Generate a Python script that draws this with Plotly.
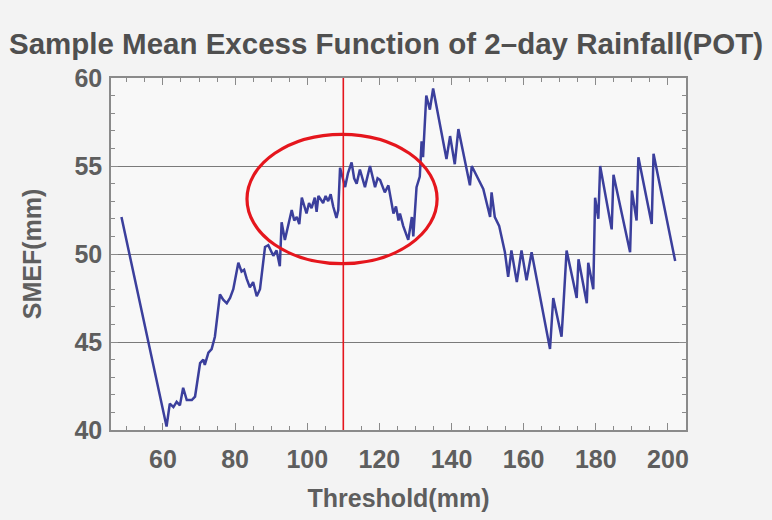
import plotly.graph_objects as go

# ---- data ----
threshold_mm = [
    48.5, 61.0, 61.9, 62.9, 63.8, 64.7, 65.6, 66.6, 68.0, 68.9,
    70.3, 71.2, 71.6, 72.6, 73.5, 74.4, 75.8, 76.7, 77.7, 78.6,
    79.5, 80.9, 81.8, 82.5, 83.2, 84.1, 85.0, 86.0, 86.9, 88.3,
    89.2, 90.6, 91.5, 92.4, 92.9, 93.8, 95.7, 96.4, 97.1, 97.8,
    98.5, 99.8, 100.5, 101.2, 102.1, 102.6, 103.1, 104.4, 105.1, 105.8,
    106.5, 107.2, 108.1, 108.6, 109.1, 110.5, 111.3, 112.3, 113.0, 113.7,
    114.6, 116.0, 117.4, 118.8, 119.5, 120.2, 121.5, 122.5, 123.9, 124.6,
    125.3, 125.7, 126.6, 127.6, 128.0, 129.0, 129.4, 130.3, 131.2, 131.7,
    132.1, 133.0, 134.0, 134.9, 135.8, 138.6, 139.6, 140.9, 141.9, 143.7,
    145.1, 145.6, 147.9, 148.8, 150.7, 151.1, 152.0, 153.2, 154.8, 155.7,
    156.6, 158.1, 159.4, 160.8, 162.2, 163.6, 167.3, 168.2, 169.6, 170.5,
    171.0, 171.9, 174.7, 175.2, 177.5, 177.9, 179.3, 179.8, 180.7, 181.2,
    184.4, 184.9, 189.5, 190.0, 191.3, 191.8, 195.5, 196.0, 202.0,
]
smef_mm = [
    52.1, 40.2, 41.5, 41.3, 41.6, 41.4, 42.4, 41.7, 41.7, 41.9,
    43.8, 44.0, 43.7, 44.4, 44.6, 45.3, 47.7, 47.4, 47.2, 47.5,
    48.0, 49.5, 49.0, 49.1, 48.6, 48.1, 48.4, 47.6, 48.0, 50.4,
    50.5, 49.9, 50.2, 49.3, 51.8, 50.8, 52.5, 51.9, 52.1, 51.7,
    53.2, 52.3, 52.9, 52.6, 53.2, 52.4, 53.3, 52.9, 53.3, 53.0,
    53.4, 52.7, 52.05, 52.5, 54.9, 53.8, 54.6, 55.2, 54.3, 54.0,
    54.8, 53.8, 55.0, 53.8, 54.3, 54.2, 53.5, 53.9, 52.3, 52.7,
    51.9, 52.3, 51.6, 51.0, 50.8, 52.1, 51.0, 53.8, 54.4, 56.4,
    55.5, 59.0, 58.2, 59.4, 58.4, 55.4, 56.7, 55.1, 57.1, 55.2,
    53.9, 55.0, 54.0, 53.7, 52.1, 53.5, 52.1, 51.6, 50.1, 48.7,
    50.2, 48.4, 50.2, 48.5, 50.1, 48.6, 44.6, 47.5, 46.1, 45.3,
    47.0, 50.2, 47.5, 49.7, 47.2, 49.5, 48.0, 53.2, 52.0, 55.0,
    51.4, 54.5, 50.1, 53.6, 51.9, 55.5, 51.7, 55.7, 49.6,
]
x_tick_vals = [60, 80, 100, 120, 140, 160, 180, 200]
y_tick_vals = [40, 45, 50, 55, 60]

marked_threshold = 110          # red vertical reference line
ellipse_x = [83.3, 136.0]       # highlighted region (threshold range)
ellipse_y = [49.45, 56.8]       # highlighted region (SMEF range)

title_text = "Sample Mean Excess Function of 2\u2013day Rainfall(POT)"
x_title = "Threshold(mm)"
y_title = "SMEF(mm)"

FONT = "Liberation Sans, Arial, sans-serif"
GRAY = "#5e5e5e"
FRAME = "#8a8a8a"

fig = go.Figure()
fig.add_trace(go.Scatter(
    x=threshold_mm, y=smef_mm, mode="lines",
    line=dict(color="#3b3f9c", width=2.5),
    showlegend=False, hoverinfo="x+y",
))

fig.add_shape(type="line", xref="x", yref="paper",
              x0=marked_threshold, x1=marked_threshold, y0=0, y1=1,
              line=dict(color="#e5161d", width=1.6))
fig.add_shape(type="circle", xref="x", yref="y",
              x0=ellipse_x[0], x1=ellipse_x[1], y0=ellipse_y[0], y1=ellipse_y[1],
              line=dict(color="#e5161d", width=3.2))

axis_common = dict(
    showline=True, linecolor=FRAME, linewidth=1.5, mirror="allticks",
    ticks="inside", ticklen=7, tickcolor=FRAME, tickwidth=1.3,
    zeroline=False,
    tickfont=dict(family=FONT, size=25, color=GRAY, weight="bold"),
)

fig.update_xaxes(
    range=[45.6, 205.0], tickvals=x_tick_vals, showgrid=False, ticklabelstandoff=6,
    minor=dict(dtick=5, tick0=0, ticks="inside", ticklen=4, tickcolor=FRAME, showgrid=False),
    title=dict(text=x_title, font=dict(family=FONT, size=25, color=GRAY, weight="bold"), standoff=18),
    **axis_common,
)
fig.update_yaxes(
    range=[40, 60], tickvals=y_tick_vals, showgrid=True, gridcolor="#7a7a7a", gridwidth=1.4,
    ticklabelstandoff=2,
    minor=dict(dtick=1, tick0=0, ticks="inside", ticklen=4, tickcolor=FRAME, showgrid=False),
    title=dict(text=y_title, font=dict(family=FONT, size=25, color=GRAY, weight="bold"), standoff=26),
    **axis_common,
)

fig.update_layout(
    width=772, height=520,
    margin=dict(l=111, r=86, t=78, b=90),
    paper_bgcolor="#f3f3f3", plot_bgcolor="#f8f8f8",
    title=dict(text=title_text, x=0.5, xanchor="center", y=1 - 44 / 520, yanchor="middle",
               font=dict(family=FONT, size=29.5, color="#4f4f4f", weight="bold")),
)

fig.write_html("out.html", config={"displayModeBar": False})
